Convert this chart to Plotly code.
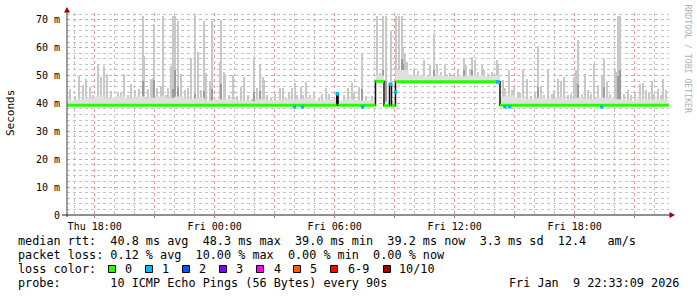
import numpy as np
import plotly.graph_objects as go

# ---------------- data (time in hours since Thu 2026-01-08 00:00, values in ms) -------------
x_start, x_end = 16.615, 46.715
y_max = 72.4

# median rtt step series
med_t = [16.615, 30.10, 30.17, 32.04, 32.465, 32.74, 32.84, 33.04, 38.265, 46.69]
med_v = [39.3, 43.4, 39.3, 47.9, 39.2, 46.9, 39.2, 47.8, 39.3, 39.3]

# points with 1/10 loss
loss1_t = [27.98, 28.38, 30.13, 31.40, 32.79, 33.04, 38.15, 38.515, 38.75, 43.35]
loss1_v = [38.8, 38.8, 43.5, 38.8, 46.9, 44.0, 47.7, 38.8, 38.8, 38.8]

# smoke: highest ping per step (light grey spikes)
spk_t = [16.78, 17.015, 17.23, 17.40, 17.565, 17.75, 17.915, 18.15, 18.315, 18.45,
         18.615, 18.80, 19.00, 19.165, 19.30, 19.48, 19.665, 19.83, 20.00, 20.20,
         20.40, 20.48, 20.665, 20.83, 20.90, 20.965, 21.10, 21.30, 21.43, 21.55,
         21.665, 21.80, 21.90, 22.015, 22.165, 22.30, 22.515, 22.665, 22.83, 23.00,
         23.165, 23.30, 23.465, 23.58, 23.75, 23.865, 24.25, 24.33, 24.45, 24.515,
         24.73, 24.93, 25.115, 25.30, 25.48, 25.68, 25.85, 25.98, 26.115, 26.28,
         26.40, 26.48, 26.615, 26.815, 27.015, 27.28, 27.43, 27.565, 27.715, 27.85,
         28.015, 28.115, 28.315, 28.415, 28.55, 28.75, 28.98, 29.215, 29.38, 29.58,
         29.715, 30.45, 30.65, 30.85, 30.98, 31.23, 31.38, 31.55, 31.65, 31.85,
         32.10, 32.25, 32.43, 32.565, 32.80, 33.065, 33.20, 33.35, 33.43, 33.52,
         33.60, 33.98, 34.18, 34.48, 34.765, 34.965, 35.10,
         35.315, 35.515, 35.765, 35.98, 36.18, 36.465, 36.55, 36.765, 36.88, 37.015,
         37.18, 37.35, 37.45, 37.65, 37.85, 38.10, 38.18, 38.40, 38.515, 38.715,
         38.85, 38.98, 39.15, 39.265, 39.43, 39.63, 39.815, 40.015, 40.18, 40.315,
         40.48, 40.68, 40.88, 40.98, 41.18, 41.315, 41.48, 41.68, 41.815, 41.98,
         42.08, 42.18, 42.35, 42.515, 42.68, 42.815, 42.965, 43.18, 43.38, 43.48,
         43.615, 43.78, 44.015, 44.10, 44.18, 44.28, 44.45, 44.68, 44.815, 45.015,
         45.25, 45.43, 45.55, 45.715, 45.85, 45.98, 46.15, 46.30, 46.43, 46.55]
spk_v = [45.1, 42.6, 50.0, 46.5, 48.9, 45.7, 43.0, 54.3, 49.5, 53.3,
         50.7, 44.4, 42.0, 44.0, 44.0, 50.5, 43.0, 46.9, 44.9, 45.3,
         71.5, 56.9, 45.0, 48.7, 49.2, 68.6, 45.6, 46.3, 71.5, 43.0,
         45.5, 53.4, 71.5, 71.5, 69.7, 50.4, 44.8, 45.6, 56.3, 71.5,
         58.4, 44.9, 69.7, 51.0, 48.0, 69.5, 54.9, 70.0, 51.3, 50.5,
         43.0, 50.1, 42.5, 46.0, 49.5, 43.0, 41.5, 56.6, 45.6, 53.7,
         49.5, 48.3, 43.0, 41.8, 43.4, 45.5, 45.6, 42.0, 44.0, 45.4,
         47.4, 43.0, 46.0, 43.0, 47.7, 43.0, 44.0, 42.0, 43.5, 45.5,
         43.4, 43.0, 45.5, 47.4, 43.8, 45.7, 58.1, 42.5, 41.0, 42.5,
         71.5, 51.0, 71.5, 71.5, 66.0, 71.5, 71.5, 71.5, 60.0, 58.0,
         55.0, 52.5, 51.5, 55.7, 53.6, 65.0, 54.0,
         51.2, 53.6, 50.9, 50.0, 52.0, 56.0, 53.7, 52.4, 56.7, 55.4,
         51.3, 54.3, 52.0, 50.6, 51.3, 55.5, 54.0, 48.3, 45.4, 51.9,
         44.8, 46.0, 44.2, 43.8, 52.5, 48.9, 42.5, 44.0, 60.5, 46.4,
         43.0, 52.5, 43.4, 44.9, 48.7, 47.6, 49.6, 43.0, 43.4, 49.6,
         52.1, 62.8, 43.4, 50.7, 44.8, 43.4, 54.3, 46.5, 50.0, 55.8,
         47.6, 43.4, 51.9, 51.2, 71.5, 71.5, 43.4, 44.8, 43.0, 44.2,
         46.9, 47.4, 44.8, 44.2, 48.0, 43.4, 45.0, 43.0, 48.9, 44.8]

# smoke: inner (darker) part of some steps
mid_t = [20.40, 20.965, 21.90, 22.015, 22.165, 23.00, 23.465, 23.865, 24.33, 25.98,
         26.28, 31.38, 32.43, 32.565, 33.35, 33.43, 33.52, 34.965, 36.465, 36.88,
         40.18, 42.18, 43.48, 44.18, 44.28]
mid_v = [48.0, 48.3, 45.0, 52.0, 46.0, 43.5, 44.5, 45.0, 47.0, 44.0,
         44.5, 45.0, 52.0, 48.0, 56.0, 54.0, 52.0, 52.0, 52.0, 52.0,
         46.0, 47.0, 46.0, 50.0, 52.0]

# smoke: dense haze just above the median
haze_t = [16.615, 17.0, 17.5, 18.0, 18.5, 19.0, 19.5, 20.0, 20.5, 21.0, 21.5, 22.0, 22.5,
          23.0, 23.5, 24.0, 24.5, 25.0, 25.5, 26.0, 26.5, 27.0, 27.5, 28.0, 28.5, 29.0,
          29.5, 30.0, 30.5, 31.0, 31.5, 32.04, 32.465, 32.74, 32.84, 33.04, 33.7, 34.0,
          34.5, 35.0, 35.5, 36.0, 36.5, 37.0, 37.5, 38.0, 38.265, 38.5, 39.0, 39.5, 40.0,
          40.5, 41.0, 41.5, 42.0, 42.5, 43.0, 43.5, 44.0, 44.5, 45.0, 45.5, 46.0, 46.69]
haze_v = [41.0, 41.5, 42.0, 42.5, 42.0, 42.5, 42.0, 42.5, 42.0, 42.5, 42.0, 42.5, 41.5,
          42.0, 41.0, 41.5, 41.5, 41.0, 40.8, 41.5, 41.0, 41.0, 41.5, 41.5, 42.0, 41.0,
          41.5, 41.0, 41.5, 41.0, 41.0, 50.0, 40.8, 48.0, 40.8, 52.0, 50.0, 50.0,
          49.7, 50.0, 49.7, 49.7, 50.0, 50.0, 49.7, 50.0, 42.5, 43.0, 42.0, 41.5, 42.0,
          41.5, 42.0, 41.5, 42.0, 41.5, 42.0, 42.0, 41.5, 41.0, 41.5, 41.5, 41.5, 41.5]

x_tickvals = [18, 21, 24, 27, 30, 33, 36, 39, 42, 45]
x_ticktext = ["Thu 18:00", "", "Fri 00:00", "", "Fri 06:00", "", "Fri 12:00", "", "Fri 18:00", ""]
y_tickvals = [0, 10, 20, 30, 40, 50, 60, 70]
y_ticktext = ["0", "10 m", "20 m", "30 m", "40 m", "50 m", "60 m", "70 m"]

loss_labels = ["0", "1", "2", "3", "4", "5", "6-9", "10/10"]
loss_colors = ["#26ff00", "#00b8ff", "#0059ff", "#7e00ff", "#ff00ff", "#ff5e00", "#ff0000", "#a10000"]

stats_rtt = "median rtt:  40.8 ms avg  48.3 ms max  39.0 ms min  39.2 ms now  3.3 ms sd  12.4   am/s"
stats_loss = "packet loss: 0.12 % avg  10.00 % max  0.00 % min  0.00 % now"
probe_txt = "probe:       10 ICMP Echo Pings (56 Bytes) every 90s"
stamp_txt = "Fri Jan  9 22:33:09 2026"

# ---------------- layout geometry ----------------
W, H = 697, 297
ML, MR, MT, MB = 67, 28, 13, 82
PW, PH = W - ML - MR, H - MT - MB
MONO = "DejaVu Sans Mono"


def px(x):
    return (x - ML) / PW


def py(y):
    return (H - MB - y) / PH


def step_at(ts, vs, t):
    ts = np.asarray(ts)
    vs = np.asarray(vs)
    i = np.searchsorted(ts, np.asarray(t), side="right") - 1
    i = np.clip(i, 0, len(vs) - 1)
    return vs[i]


fig = go.Figure()

# haze polygon between median (hv) and haze top (hv)
pts = sorted(set(med_t) | set(haze_t))
ux, uy, lx, ly = [], [], [], []
for k, t in enumerate(pts):
    if k > 0:
        ux.append(t)
        uy.append(float(step_at(haze_t, haze_v, pts[k - 1])))
        lx.append(t)
        ly.append(float(step_at(med_t, med_v, pts[k - 1])))
    ux.append(t)
    uy.append(float(step_at(haze_t, haze_v, t)))
    lx.append(t)
    ly.append(float(step_at(med_t, med_v, t)))
fig.add_trace(go.Scatter(x=ux + lx[::-1], y=uy + ly[::-1], fill="toself",
                         fillcolor="#e0e0e0", line=dict(width=0), mode="lines",
                         hoverinfo="skip", showlegend=False))

# light smoke spikes
spk_base = step_at(med_t, med_v, spk_t)
fig.add_trace(go.Bar(x=spk_t, y=np.array(spk_v) - spk_base, base=spk_base, width=0.05,
                     marker=dict(color="#c8c8c8", line=dict(width=0)), showlegend=False))
# darker inner smoke
mid_base = step_at(med_t, med_v, mid_t)
fig.add_trace(go.Bar(x=mid_t, y=np.array(mid_v) - mid_base, base=mid_base, width=0.05,
                     marker=dict(color="#9c9c9c", line=dict(width=0)), showlegend=False))

# median: black transitions, green horizontal segments
fig.add_trace(go.Scatter(x=med_t, y=med_v, mode="lines", line=dict(color="#111111", width=1.5, shape="hv"),
                         showlegend=False, hoverinfo="skip"))
gx, gy = [], []
for i in range(len(med_t) - 1):
    gx += [med_t[i], med_t[i + 1], None]
    gy += [med_v[i], med_v[i], None]
fig.add_trace(go.Scatter(x=gx, y=gy, mode="lines", line=dict(color=loss_colors[0], width=3),
                         showlegend=False, hoverinfo="skip"))
fig.add_trace(go.Scatter(x=loss1_t, y=loss1_v, mode="markers",
                         marker=dict(symbol="square", size=3.5, color=loss_colors[1], line=dict(width=0)),
                         showlegend=False, hoverinfo="skip"))

grid_major = "#f29a9a"
grid_minor = "#c4c4c4"

fig.update_layout(
    width=W, height=H, margin=dict(l=ML, r=MR, t=MT, b=MB, pad=0),
    paper_bgcolor="white", plot_bgcolor="white", barmode="overlay", bargap=0,
    showlegend=False,
    font=dict(family=MONO, size=10, color="#000"),
    xaxis=dict(range=[x_start, x_end], tickmode="array", tickvals=x_tickvals, ticktext=x_ticktext,
               showgrid=True, gridcolor=grid_major, griddash="dot", gridwidth=1,
               minor=dict(dtick=1, tick0=0, showgrid=True, gridcolor=grid_minor,
                          griddash="dot", gridwidth=1),
               ticks="outside", ticklen=2, tickcolor="#888", showline=False, zeroline=False,
               tickfont=dict(family=MONO, size=10, color="#000")),
    yaxis=dict(range=[0, y_max], tickmode="array", tickvals=y_tickvals, ticktext=y_ticktext,
               showgrid=True, gridcolor=grid_major, griddash="dot", gridwidth=1,
               minor=dict(dtick=2, tick0=0, showgrid=True, gridcolor=grid_minor,
                          griddash="dot", gridwidth=1),
               ticks="", showline=False, zeroline=False, ticklabelstandoff=6,
               tickfont=dict(family=MONO, size=10, color="#000")),
)

shapes = []
# axes lines
shapes.append(dict(type="line", xref="paper", yref="paper", x0=px(67), x1=px(67), y0=py(217), y1=py(11),
                   line=dict(color="#404040", width=1)))
shapes.append(dict(type="line", xref="paper", yref="paper", x0=px(62), x1=px(670), y0=py(215), y1=py(215),
                   line=dict(color="#202020", width=1)))
# arrows
shapes.append(dict(type="path", xref="paper", yref="paper",
                   path=f"M {px(67)},{py(7)} L {px(64)},{py(12.5)} L {px(70)},{py(12.5)} Z",
                   fillcolor="#a00000", line=dict(width=0)))
shapes.append(dict(type="path", xref="paper", yref="paper",
                   path=f"M {px(675)},{py(215)} L {px(669.5)},{py(212)} L {px(669.5)},{py(218)} Z",
                   fillcolor="#a00000", line=dict(width=0)))
# legend squares
sq_left = [108.5, 145.5, 182.5, 219.5, 256.5, 293.5, 330.5, 383.5]
lab_left = [123.3, 160.0, 197.3, 234.3, 271.7, 308.3, 345.7, 396.7]
for xl, c in zip(sq_left, loss_colors):
    shapes.append(dict(type="rect", xref="paper", yref="paper", x0=px(xl), x1=px(xl + 7),
                       y0=py(272.5), y1=py(265.5), fillcolor=c, line=dict(color="#000", width=1)))
fig.update_layout(shapes=shapes)

NB = "\u00a0"
ann = []


def txt(s, x, y, anchor="left", size=11.8, color="#000", angle=0):
    ann.append(dict(text=s.replace(" ", NB), x=px(x), y=py(y), xref="paper", yref="paper",
                    xanchor=anchor, yanchor="middle", showarrow=False, textangle=angle,
                    font=dict(family=MONO, size=size, color=color)))


txt(stats_rtt, 16, 241)
txt(stats_loss, 16, 255)
txt("loss color:", 16, 269)
for xl, lab in zip(lab_left, loss_labels):
    txt(lab, xl, 269)
txt(probe_txt, 16, 283)
txt(stamp_txt, 681, 283, anchor="right")
txt("Seconds", 10, 113, anchor="center", size=11, angle=-90)
txt("RRDTOOL / TOBI OETIKER", 687.5, 59, anchor="center", size=8.2, color="#b0b0b0", angle=90)
fig.update_layout(annotations=ann)

fig.write_html("out.html")
